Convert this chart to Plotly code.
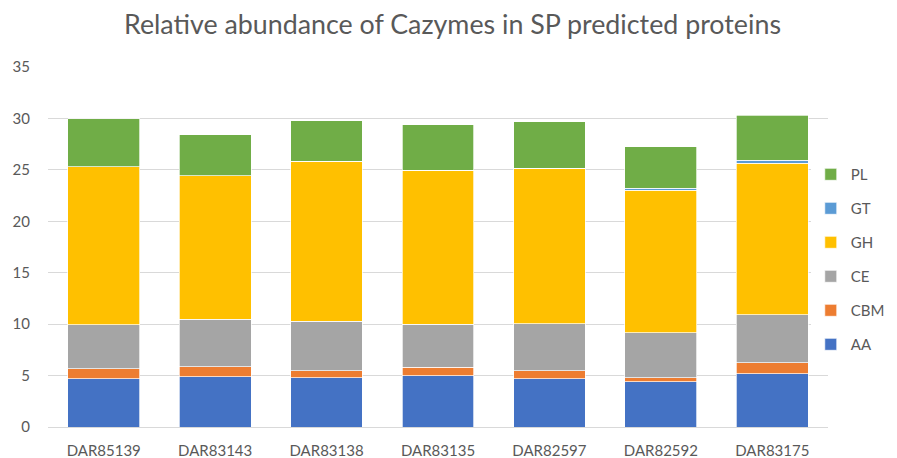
import plotly.graph_objects as go

categories = ["DAR85139", "DAR83143", "DAR83138", "DAR83135", "DAR82597", "DAR82592", "DAR83175"]
AA = [4.70, 4.88, 4.78, 4.98, 4.68, 4.39, 5.17]
CBM = [0.96, 0.97, 0.68, 0.82, 0.78, 0.39, 1.07]
CE = [4.29, 4.65, 4.82, 4.19, 4.56, 4.39, 4.69]
GH = [15.35, 13.93, 15.54, 14.99, 15.12, 13.85, 14.70]
GT = [0.0, 0.0, 0.0, 0.0, 0.0, 0.20, 0.32]
PL = [4.65, 4.00, 3.94, 4.39, 4.56, 4.04, 4.36]

series = [("AA", AA, "#4472C4"), ("CBM", CBM, "#ED7D31"), ("CE", CE, "#A5A5A5"),
          ("GH", GH, "#FFC000"), ("GT", GT, "#5B9BD5"), ("PL", PL, "#70AD47")]

fig = go.Figure()
n = len(series)
for i, (name, vals, col) in enumerate(series):
    fig.add_trace(go.Bar(x=categories, y=vals, name=name, legendgroup=name,
                         legendrank=n - i,
                         marker=dict(color=col, line=dict(color="white", width=0.7))))

font_family = "Lato, 'Open Sans', sans-serif"
fig.update_layout(
    barmode="stack",
    bargap=0.356,
    width=889, height=450,
    margin=dict(l=40, r=69, t=59, b=31, autoexpand=False),
    paper_bgcolor="white", plot_bgcolor="white",
    title=dict(text="Relative abundance of Cazymes in SP predicted proteins",
               x=0.5, xanchor="center", y=0.962, yanchor="middle",
               font=dict(family=font_family, size=26.8, color="#595959")),
    font=dict(family=font_family, size=15, color="#595959"),
    legend=dict(xref="container", yref="container", x=0.903, xanchor="left",
                y=0.441, yanchor="middle",
                traceorder="grouped", tracegroupgap=11.5,
                font=dict(size=15, color="#595959")),
    yaxis=dict(range=[0, 35], dtick=5, showgrid=True, gridcolor="#d9d9d9", gridwidth=1,
               zeroline=False, ticks="", tickfont=dict(size=15), ticklabelstandoff=17),
    xaxis=dict(showline=True, linecolor="#d9d9d9", ticks="", tickfont=dict(size=15),
               ticklabelstandoff=10),
)

fig.write_html("out.html")
